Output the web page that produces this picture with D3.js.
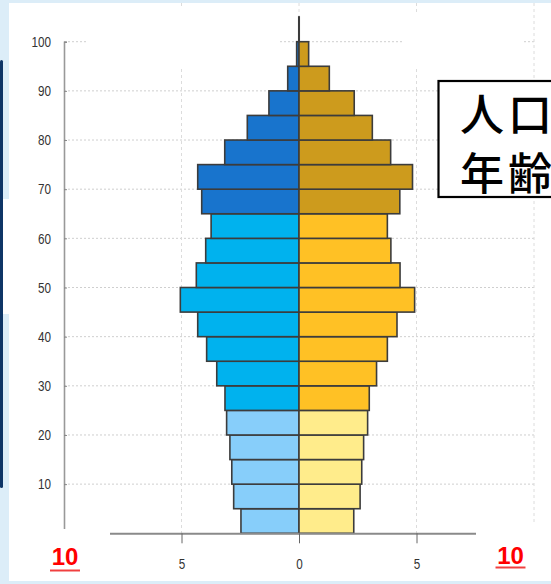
<!DOCTYPE html>
<html lang="ja">
<head>
    <meta charset="UTF-8">
    <title>人口ピラミッド</title>
    <script src="https://d3js.org/d3.v7.min.js"></script>
    <style>
        body {
            margin: 0;
            background-color: #dcedf8;
        }
        svg {
            display: block;
        }
        .tick text {
            font-family: "Liberation Sans", Arial, sans-serif;
            font-size: 15px;
            fill: #333;
        }
    </style>
</head>
<body>
    <svg id="chart" width="551" height="584"></svg>

    <script>
        // age groups (5-year bands), share of population in % per sex
        const ageStart = [0, 5, 10, 15, 20, 25, 30, 35, 40, 45, 50, 55, 60, 65, 70, 75, 80, 85, 90, 95, 100];
        const ageGroups = ["0-4", "5-9", "10-14", "15-19", "20-24", "25-29", "30-34", "35-39", "40-44", "45-49",
                           "50-54", "55-59", "60-64", "65-69", "70-74", "75-79", "80-84", "85-89", "90-94", "95-99", "100+"];
        const male = [2.47, 2.78, 2.86, 2.94, 3.08, 3.15, 3.5, 3.93, 4.31, 5.05,
                      4.37, 3.97, 3.74, 4.14, 4.31, 3.16, 2.2, 1.28, 0.48, 0.1, 0.01];
        const female = [2.33, 2.6, 2.67, 2.75, 2.92, 2.99, 3.3, 3.76, 4.17, 4.92,
                        4.3, 3.91, 3.76, 4.29, 4.83, 3.9, 3.12, 2.35, 1.29, 0.41, 0.01];

        const yTicks = [0, 10, 20, 30, 40, 50, 60, 70, 80, 90, 100];
        const xGrid = [-5, 0, 5, 10];
        const xTicks = [-5, 0, 5];
        const edgeLabels = [-10, 10];

        // colours: young (0-24), working age (25-64), elderly (65+)
        const maleColors = ["#87CEFA", "#00B2EE", "#1874CD"];
        const femaleColors = ["#FFEC8B", "#FFC125", "#CD9B1D"];

        const titleLines = ["人口", "年齢"];

        const svg = d3.select("#chart");

        // slide background bits
        svg.append("rect").attr("x", 9).attr("y", 3).attr("width", 542).attr("height", 578).attr("fill", "#ffffff");
        svg.append("rect").attr("x", 3).attr("y", 199).attr("width", 6).attr("height", 115).attr("fill", "#ffffff");
        svg.append("rect").attr("x", 0).attr("y", 60).attr("width", 3).attr("height", 428).attr("rx", 1.5).attr("fill", "#0e3566");

        const x = d3.scaleLinear().domain([-10, 10]).range([64, 534]);
        const y = d3.scaleLinear().domain([0, 100]).range([533.3, 41.7]);

        const group = i => ageStart[i] < 25 ? 0 : (ageStart[i] < 65 ? 1 : 2);

        // grid
        svg.append("g").selectAll("line")
            .data(yTicks.filter(d => d > 0))
            .enter().append("line")
            .attr("x1", x(-10)).attr("x2", x(10))
            .attr("y1", d => y(d)).attr("y2", d => y(d))
            .attr("stroke", "#cfcfcf")
            .attr("stroke-dasharray", "2,2");

        svg.append("g").selectAll("line")
            .data(xGrid)
            .enter().append("line")
            .attr("x1", d => x(d)).attr("x2", d => x(d))
            .attr("y1", 3).attr("y2", y(0))
            .attr("stroke", "#dcdcdc")
            .attr("stroke-dasharray", "3,3");

        // white areas laid over the grid in the slide
        svg.append("rect").attr("x", 88).attr("y", 9).attr("width", 192).attr("height", 59).attr("fill", "#ffffff");
        svg.append("rect").attr("x", 404).attr("y", 13).attr("width", 119).attr("height", 55).attr("fill", "#ffffff");

        // bars
        const bars = svg.append("g");
        bars.selectAll(".male")
            .data(male)
            .enter().append("rect")
            .attr("class", "male")
            .attr("x", d => x(-d))
            .attr("y", (d, i) => y(ageStart[i] + 5))
            .attr("width", d => x(0) - x(-d))
            .attr("height", (d, i) => y(ageStart[i]) - y(ageStart[i] + 5))
            .attr("fill", (d, i) => maleColors[group(i)])
            .attr("stroke", "#3c3c3c")
            .attr("stroke-width", 1.6);

        bars.selectAll(".female")
            .data(female)
            .enter().append("rect")
            .attr("class", "female")
            .attr("x", x(0))
            .attr("y", (d, i) => y(ageStart[i] + 5))
            .attr("width", d => x(d) - x(0))
            .attr("height", (d, i) => y(ageStart[i]) - y(ageStart[i] + 5))
            .attr("fill", (d, i) => femaleColors[group(i)])
            .attr("stroke", "#3c3c3c")
            .attr("stroke-width", 1.6);

        // axes (labels squeezed to look like a narrow face)
        const squeeze = 0.78;
        const yAxis = d3.axisLeft(y).tickValues(yTicks).tickSize(-3).tickPadding(13);
        const gy = svg.append("g").attr("transform", `translate(${x(-10)},0)`).call(yAxis);
        gy.select(".domain").attr("stroke", "#999").attr("stroke-width", 1.6);
        gy.selectAll(".tick line").attr("stroke", "#888");
        gy.selectAll(".tick text")
            .attr("x", -13 / squeeze)
            .attr("transform", `scale(${squeeze},1)`);

        const xAxis = d3.axisBottom(x).tickValues(xTicks).tickFormat(d => Math.abs(d)).tickSize(10).tickPadding(15);
        const gx = svg.append("g").attr("transform", `translate(0,${y(0)})`).call(xAxis);
        gx.select(".domain").attr("stroke", "#8a8a8a").attr("stroke-width", 2);
        gx.selectAll(".tick line").attr("stroke", "#666");
        gx.selectAll(".tick text").attr("transform", `scale(${squeeze},1)`);

        // boxes covering the outer ends of the axes, with red 10 annotations
        svg.append("rect").attr("x", 9).attr("y", 529).attr("width", 101).attr("height", 52).attr("fill", "#ffffff");
        svg.append("rect").attr("x", 476).attr("y", 525).attr("width", 75).attr("height", 56).attr("fill", "#ffffff");

        const redPos = [{cx: 65, base: 565, line: 570.5}, {cx: 510.5, base: 563.5, line: 567.5}];
        edgeLabels.forEach((v, i) => {
            const r = redPos[i];
            svg.append("text")
                .attr("x", r.cx).attr("y", r.base)
                .attr("text-anchor", "middle")
                .attr("font-family", "Liberation Sans, Arial, sans-serif")
                .attr("font-weight", "bold")
                .attr("font-size", 24)
                .attr("fill", "#ff0000")
                .text(Math.abs(v));
            svg.append("line")
                .attr("x1", r.cx - 15).attr("x2", r.cx + 15)
                .attr("y1", r.line).attr("y2", r.line)
                .attr("stroke", "#f04040").attr("stroke-width", 2);
        });

        // title box
        svg.append("rect")
            .attr("x", 438.5).attr("y", 81).attr("width", 140).attr("height", 116)
            .attr("fill", "#ffffff").attr("stroke", "#000").attr("stroke-width", 2.2);

        svg.selectAll(".title")
            .data(titleLines)
            .enter().append("text")
            .attr("class", "title")
            .attr("x", 460)
            .attr("y", (d, i) => 131 + i * 59)
            .attr("font-family", "Noto Sans CJK JP, sans-serif")
            .attr("font-size", 44)
            .attr("font-weight", 500)
            .attr("letter-spacing", 4)
            .attr("fill", "#000")
            .text(d => d);
    </script>
</body>
</html>
